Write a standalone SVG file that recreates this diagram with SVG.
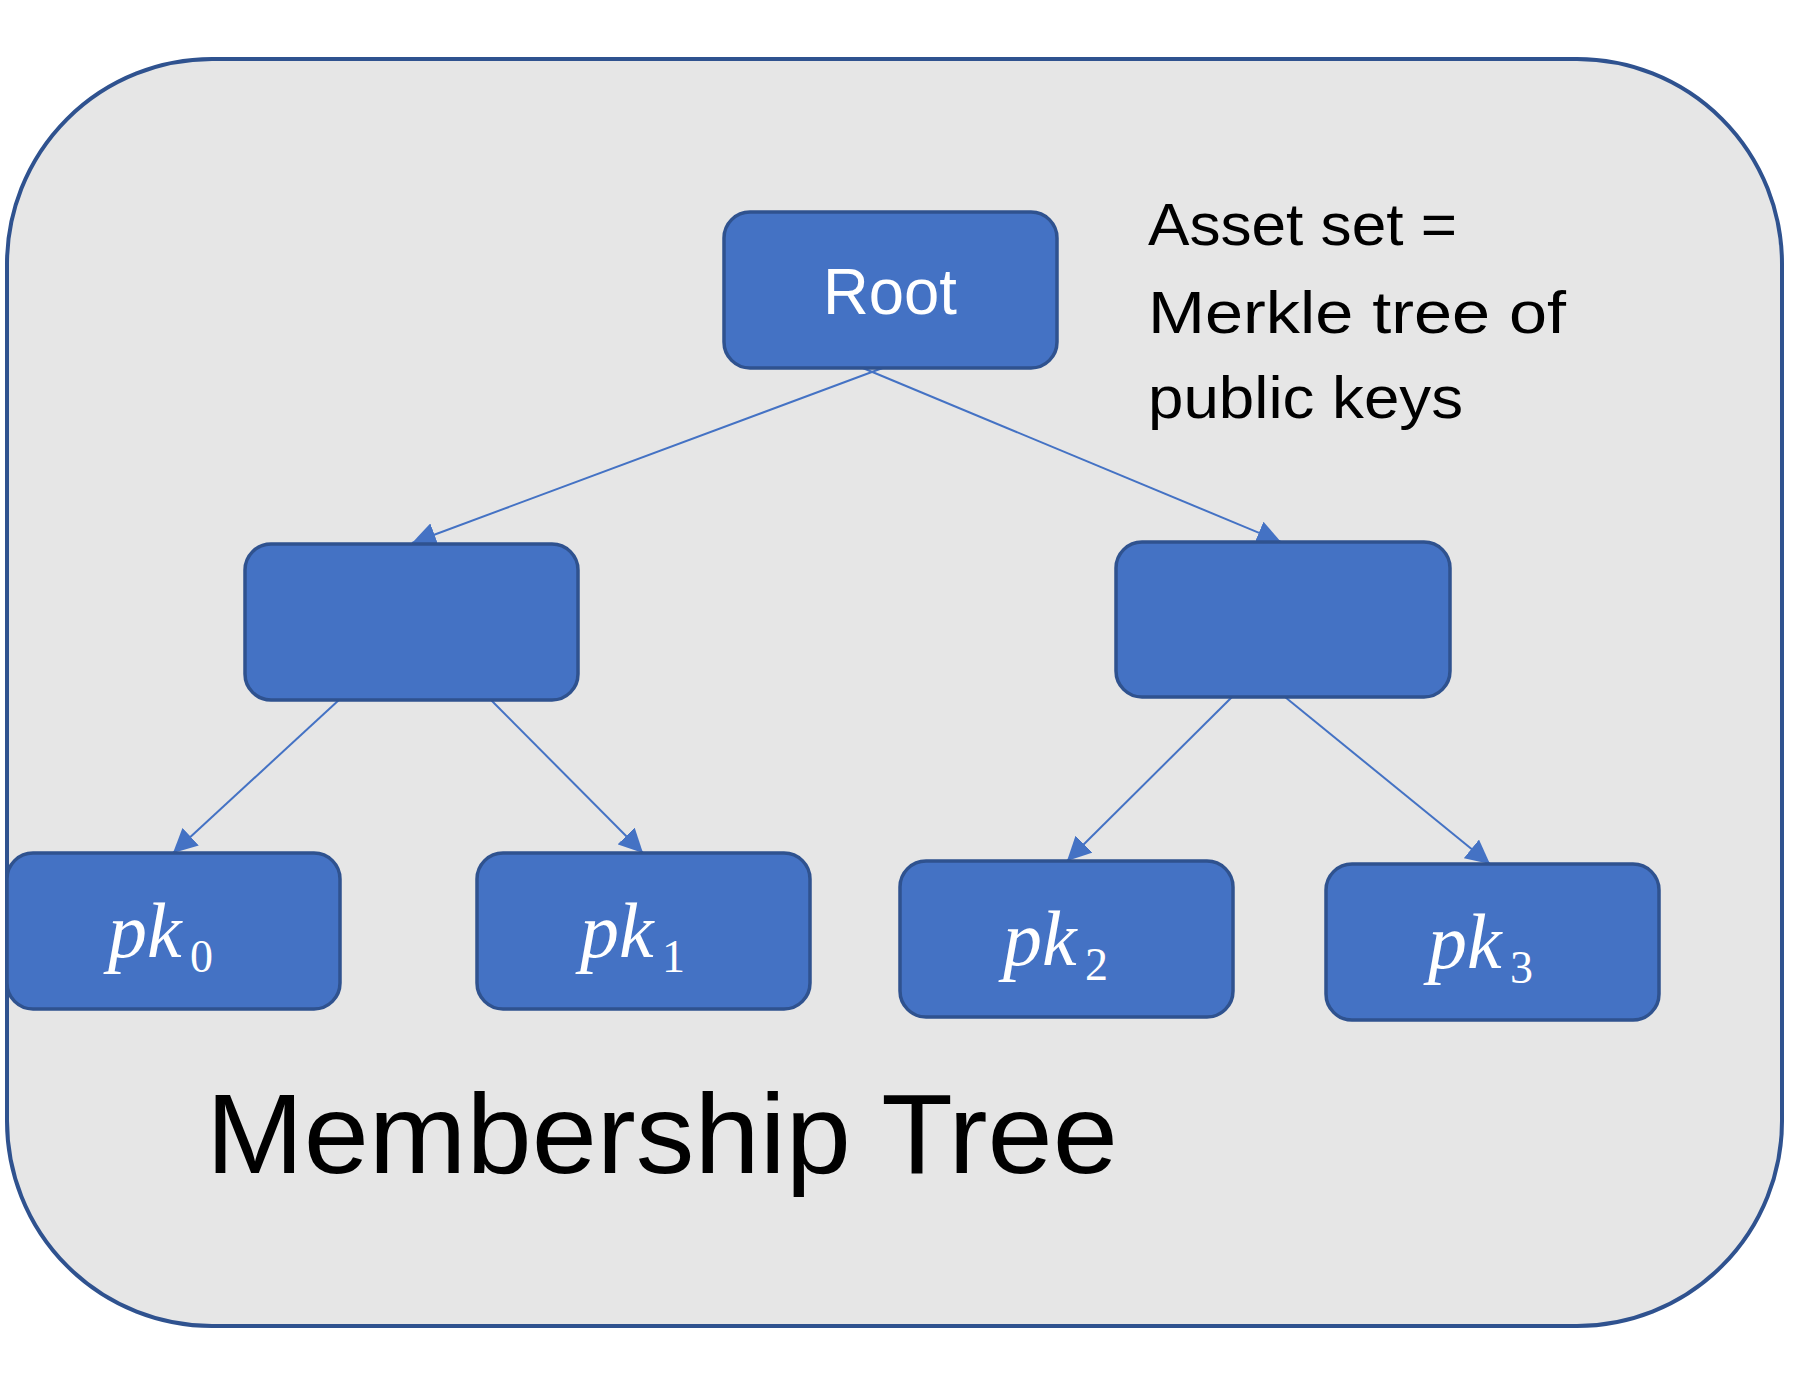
<svg xmlns="http://www.w3.org/2000/svg" width="1810" height="1397" viewBox="0 0 1810 1397">
  <style>
    .node { fill: #4472C4; stroke: #2F528F; stroke-width: 3.5; }
    .conn { stroke: #4472C4; stroke-width: 2; fill: none; marker-end: url(#arrow); }
    .sans { font-family: "Liberation Sans", Arial, sans-serif; }
    .math { font-family: "Liberation Serif", "Times New Roman", serif; font-style: italic; font-size: 78px; fill: #FFFFFF; }
    .sub { font-style: normal; font-size: 46px; }
  </style>
  <defs>
    <marker id="arrow" viewBox="0 0 24 24" markerWidth="24" markerHeight="24" refX="24" refY="12" orient="auto" markerUnits="userSpaceOnUse">
      <path d="M0,0 L24,12 L0,24 z" fill="#4472C4"/>
    </marker>
  </defs>
  <rect x="0" y="0" width="1810" height="1397" fill="#FFFFFF"/>

  <g id="container">
    <rect x="7" y="59" width="1775" height="1267" rx="205" ry="205" fill="#E6E6E6" stroke="#2F528F" stroke-width="4"/>
    <text class="sans" x="206" y="1173" font-size="113" textLength="912" lengthAdjust="spacingAndGlyphs" fill="#000000">Membership Tree</text>
  </g>

  <g id="caption">
    <text class="sans" font-size="60" fill="#000000">
      <tspan x="1148" y="245" textLength="309" lengthAdjust="spacingAndGlyphs">Asset set =</tspan>
    </text>
    <text class="sans" font-size="60" fill="#000000">
      <tspan x="1148" y="333" textLength="418" lengthAdjust="spacingAndGlyphs">Merkle tree of</tspan>
    </text>
    <text class="sans" font-size="60" fill="#000000">
      <tspan x="1148" y="418" textLength="315" lengthAdjust="spacingAndGlyphs">public keys</tspan>
    </text>
  </g>

  <g id="connectors">
    <line class="conn" x1="888" y1="366" x2="412" y2="543"/>
    <line class="conn" x1="858" y1="366" x2="1281" y2="542"/>
    <line class="conn" x1="340" y1="699" x2="173" y2="853"/>
    <line class="conn" x1="490" y1="699" x2="643" y2="853"/>
    <line class="conn" x1="1232" y1="697" x2="1067" y2="861"/>
    <line class="conn" x1="1285" y1="697" x2="1490" y2="864"/>
  </g>

  <g id="root">
    <rect class="node" x="724" y="212" width="333" height="156" rx="26" ry="26"/>
    <text class="sans" x="823" y="314" font-size="64" textLength="134" lengthAdjust="spacingAndGlyphs" fill="#FFFFFF">Root</text>
  </g>

  <g id="mid-left">
    <rect class="node" x="245" y="544" width="333" height="156" rx="26" ry="26"/>
  </g>

  <g id="mid-right">
    <rect class="node" x="1116" y="542" width="334" height="155" rx="26" ry="26"/>
  </g>

  <g id="pk0">
    <rect class="node" x="7" y="853" width="333" height="156" rx="26" ry="26"/>
    <text class="math" x="108" y="957">pk<tspan class="sub" x="190" y="972">0</tspan></text>
  </g>

  <g id="pk1">
    <rect class="node" x="477" y="853" width="333" height="156" rx="26" ry="26"/>
    <text class="math" x="580" y="957">pk<tspan class="sub" x="662" y="972">1</tspan></text>
  </g>

  <g id="pk2">
    <rect class="node" x="900" y="861" width="333" height="156" rx="26" ry="26"/>
    <text class="math" x="1003" y="965">pk<tspan class="sub" x="1085" y="980">2</tspan></text>
  </g>

  <g id="pk3">
    <rect class="node" x="1326" y="864" width="333" height="156" rx="26" ry="26"/>
    <text class="math" x="1428" y="968">pk<tspan class="sub" x="1510" y="983">3</tspan></text>
  </g>
</svg>
